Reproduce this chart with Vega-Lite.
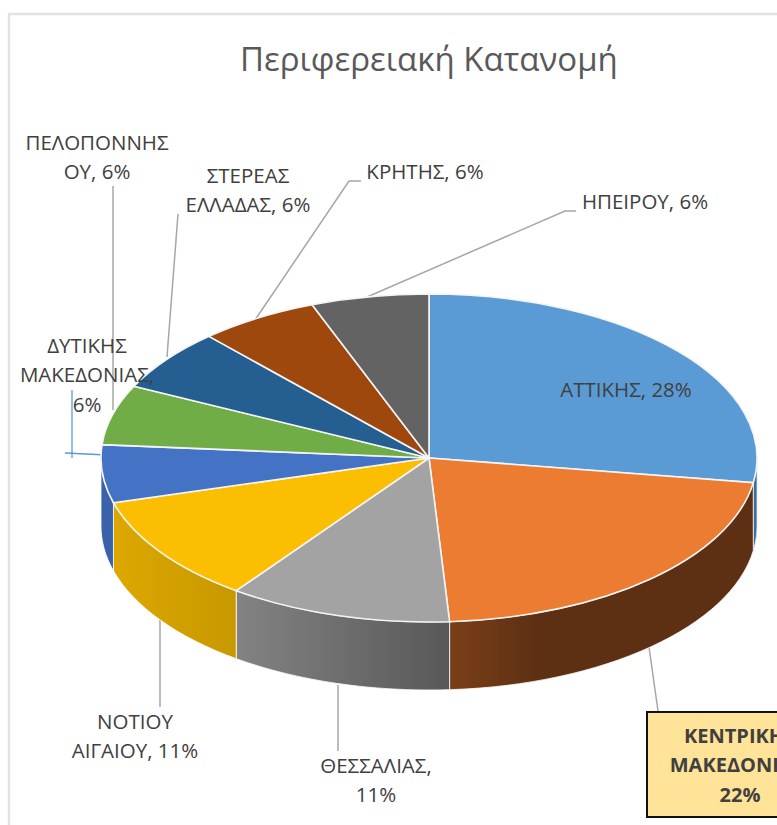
{
"$schema":"https://vega.github.io/schema/vega-lite/v6.json",
"width":777,"height":825,"padding":0,"autosize":{"type":"none"},"background":"white",
"config":{"view":{"stroke":null},"text":{"font":"Open Sans"}},
"title":{"text":"Περιφερειακή Κατανομή","font":"Open Sans","fontSize":33,"fontWeight":"normal","color":"#595959","anchor":"start","frame":"group","dx":240,"dy":81,"offset":0},
"data":{"values":[
{"region":"ΑΤΤΙΚΗΣ","share":27.4,"label":"ΑΤΤΙΚΗΣ, 28%"},
{"region":"ΚΕΝΤΡΙΚΗΣ ΜΑΚΕΔΟΝΙΑΣ","share":21.6,"label":"ΚΕΝΤΡΙΚΗΣ|ΜΑΚΕΔΟΝΙΑΣ,|22%"},
{"region":"ΘΕΣΣΑΛΙΑΣ","share":11,"label":"ΘΕΣΣΑΛΙΑΣ,|11%"},
{"region":"ΝΟΤΙΟΥ ΑΙΓΑΙΟΥ","share":10.6,"label":"ΝΟΤΙΟΥ|ΑΙΓΑΙΟΥ, 11%"},
{"region":"ΔΥΤΙΚΗΣ ΜΑΚΕΔΟΝΙΑΣ","share":5.7,"label":"ΔΥΤΙΚΗΣ|ΜΑΚΕΔΟΝΙΑΣ,|6%"},
{"region":"ΠΕΛΟΠΟΝΝΗΣΟΥ","share":5.9,"label":"ΠΕΛΟΠΟΝΝΗΣ|ΟΥ, 6%"},
{"region":"ΣΤΕΡΕΑΣ ΕΛΛΑΔΑΣ","share":6.1,"label":"ΣΤΕΡΕΑΣ|ΕΛΛΑΔΑΣ, 6%"},
{"region":"ΚΡΗΤΗΣ","share":5.9,"label":"ΚΡΗΤΗΣ, 6%"},
{"region":"ΗΠΕΙΡΟΥ","share":5.8,"label":"ΗΠΕΙΡΟΥ, 6%"}
]},
"transform":[
{"window":[{"op":"sum","field":"share","as":"s1"}],"frame":[null,0]},
{"calculate":"(datum.s1-datum.share)/100*2*PI","as":"a0"},
{"calculate":"datum.s1/100*2*PI","as":"a1"},
{"calculate":"clamp(datum.a0,PI/2,3*PI/2)","as":"w0"},
{"calculate":"clamp(datum.a1,PI/2,3*PI/2)","as":"w1"},
{"calculate":"'M0,0L'+round(328*sin(datum.a0)*100)/100+','+round(-164*cos(datum.a0)*100)/100+'A328,164,0,0,1,'+round(328*sin(datum.a1)*100)/100+','+round(-164*cos(datum.a1)*100)/100+'Z'","as":"wedge"},
{"calculate":"'M'+round(328*sin(datum.w0)*100)/100+','+round(-164*cos(datum.w0)*100)/100+'A328,164,0,0,1,'+round(328*sin(datum.w1)*100)/100+','+round(-164*cos(datum.w1)*100)/100+'L'+round(328*sin(datum.w1)*100)/100+','+round((68-164*cos(datum.w1))*100)/100+'A328,164,0,0,0,'+round(328*sin(datum.w0)*100)/100+','+round((68-164*cos(datum.w0))*100)/100+'Z'","as":"wall"},
{"calculate":"{'ΑΤΤΙΚΗΣ':626,'ΚΕΝΤΡΙΚΗΣ ΜΑΚΕΔΟΝΙΑΣ':740,'ΘΕΣΣΑΛΙΑΣ':376,'ΝΟΤΙΟΥ ΑΙΓΑΙΟΥ':135,'ΔΥΤΙΚΗΣ ΜΑΚΕΔΟΝΙΑΣ':87,'ΠΕΛΟΠΟΝΝΗΣΟΥ':97,'ΣΤΕΡΕΑΣ ΕΛΛΑΔΑΣ':248,'ΚΡΗΤΗΣ':425,'ΗΠΕΙΡΟΥ':645}[datum.region]","as":"lx"},
{"calculate":"{'ΑΤΤΙΚΗΣ':391,'ΚΕΝΤΡΙΚΗΣ ΜΑΚΕΔΟΝΙΑΣ':737,'ΘΕΣΣΑΛΙΑΣ':767,'ΝΟΤΙΟΥ ΑΙΓΑΙΟΥ':723,'ΔΥΤΙΚΗΣ ΜΑΚΕΔΟΝΙΑΣ':347,'ΠΕΛΟΠΟΝΝΗΣΟΥ':144,'ΣΤΕΡΕΑΣ ΕΛΛΑΔΑΣ':177,'ΚΡΗΤΗΣ':173,'ΗΠΕΙΡΟΥ':203}[datum.region]","as":"ly"},
{"calculate":"{'ΑΤΤΙΚΗΣ':'M0,0','ΚΕΝΤΡΙΚΗΣ ΜΑΚΕΔΟΝΙΑΣ':'M649,647L658,711','ΘΕΣΣΑΛΙΑΣ':'M338,685L338,751','ΝΟΤΙΟΥ ΑΙΓΑΙΟΥ':'M160,620L160,707','ΔΥΤΙΚΗΣ ΜΑΚΕΔΟΝΙΑΣ':'M0,0','ΠΕΛΟΠΟΝΝΗΣΟΥ':'M113,186L113,410','ΣΤΕΡΕΑΣ ΕΛΛΑΔΑΣ':'M178,214L167,357','ΚΡΗΤΗΣ':'M361,181L349,181L255,320','ΗΠΕΙΡΟΥ':'M576,211L565,211L367,297'}[datum.region]","as":"leader"}
],
"layer":[
{"data":{"values":[{"frame":"chart area"}]},"transform":[],"mark":{"type":"point","shape":"M9,825L9,14L777,14","filled":false,"stroke":"#e2e2e2","strokeWidth":2.5,"opacity":1,"size":4},
 "encoding":{"x":{"datum":0,"type":"quantitative","scale":{"domain":[0,777],"range":[0,777]},"axis":null},"y":{"datum":0,"type":"quantitative","scale":{"domain":[0,825],"range":[0,825]},"axis":null}}},
{"mark":{"type":"point","filled":false,"stroke":"#a6a6a6","strokeWidth":1.5,"opacity":1,"size":4},
 "encoding":{"x":{"datum":0,"type":"quantitative","scale":{"domain":[0,777],"range":[0,777]},"axis":null},"y":{"datum":0,"type":"quantitative","scale":{"domain":[0,825],"range":[0,825]},"axis":null},"shape":{"field":"leader","type":"nominal","scale":null,"legend":null}}},
{"transform":[{"filter":"datum.region=='ΔΥΤΙΚΗΣ ΜΑΚΕΔΟΝΙΑΣ'"}],"mark":{"type":"point","shape":"M72,390L72,458M65,453L107,455","filled":false,"stroke":"#5b9bd5","strokeWidth":1.3,"opacity":1,"size":4},
 "encoding":{"x":{"datum":0,"type":"quantitative","scale":{"domain":[0,777],"range":[0,777]},"axis":null},"y":{"datum":0,"type":"quantitative","scale":{"domain":[0,825],"range":[0,825]},"axis":null}}},
{"transform":[{"filter":"datum.w1>datum.w0 && datum.region=='ΑΤΤΙΚΗΣ'"}],"mark":{"type":"point","filled":true,"fill":"#3a6d99","stroke":"#dfe6ec","strokeWidth":0.8,"opacity":1,"size":4},
 "encoding":{"x":{"datum":429,"type":"quantitative","scale":{"domain":[0,777],"range":[0,777]},"axis":null},"y":{"datum":458,"type":"quantitative","scale":{"domain":[0,825],"range":[0,825]},"axis":null},"shape":{"field":"wall","type":"nominal","scale":null,"legend":null}}},
{"transform":[{"filter":"datum.w1>datum.w0 && datum.region=='ΚΕΝΤΡΙΚΗΣ ΜΑΚΕΔΟΝΙΑΣ'"}],"mark":{"type":"point","filled":true,"fill":{"x1":0,"y1":0,"x2":1,"y2":0,"gradient":"linear","stops":[{"offset":0,"color":"#7a3f18"},{"offset":0.28,"color":"#5e3013"},{"offset":1,"color":"#5e3013"}]},"stroke":"#ffffff","strokeWidth":0.8,"opacity":1,"size":4},
 "encoding":{"x":{"datum":429,"type":"quantitative","scale":{"domain":[0,777],"range":[0,777]},"axis":null},"y":{"datum":458,"type":"quantitative","scale":{"domain":[0,825],"range":[0,825]},"axis":null},"shape":{"field":"wall","type":"nominal","scale":null,"legend":null}}},
{"transform":[{"filter":"datum.w1>datum.w0 && datum.region=='ΘΕΣΣΑΛΙΑΣ'"}],"mark":{"type":"point","filled":true,"fill":{"x1":0,"y1":0,"x2":1,"y2":0,"gradient":"linear","stops":[{"offset":0,"color":"#838383"},{"offset":1,"color":"#585858"}]},"stroke":"#ffffff","strokeWidth":0.8,"opacity":1,"size":4},
 "encoding":{"x":{"datum":429,"type":"quantitative","scale":{"domain":[0,777],"range":[0,777]},"axis":null},"y":{"datum":458,"type":"quantitative","scale":{"domain":[0,825],"range":[0,825]},"axis":null},"shape":{"field":"wall","type":"nominal","scale":null,"legend":null}}},
{"transform":[{"filter":"datum.w1>datum.w0 && datum.region=='ΝΟΤΙΟΥ ΑΙΓΑΙΟΥ'"}],"mark":{"type":"point","filled":true,"fill":{"x1":0,"y1":0,"x2":1,"y2":0,"gradient":"linear","stops":[{"offset":0,"color":"#dca800"},{"offset":1,"color":"#c79800"}]},"stroke":"#ffffff","strokeWidth":0.8,"opacity":1,"size":4},
 "encoding":{"x":{"datum":429,"type":"quantitative","scale":{"domain":[0,777],"range":[0,777]},"axis":null},"y":{"datum":458,"type":"quantitative","scale":{"domain":[0,825],"range":[0,825]},"axis":null},"shape":{"field":"wall","type":"nominal","scale":null,"legend":null}}},
{"transform":[{"filter":"datum.w1>datum.w0 && datum.region=='ΔΥΤΙΚΗΣ ΜΑΚΕΔΟΝΙΑΣ'"}],"mark":{"type":"point","filled":true,"fill":"#3a62a8","stroke":"#ffffff","strokeWidth":0.8,"opacity":1,"size":4},
 "encoding":{"x":{"datum":429,"type":"quantitative","scale":{"domain":[0,777],"range":[0,777]},"axis":null},"y":{"datum":458,"type":"quantitative","scale":{"domain":[0,825],"range":[0,825]},"axis":null},"shape":{"field":"wall","type":"nominal","scale":null,"legend":null}}},
{"mark":{"type":"point","filled":true,"stroke":"#f4f4f4","strokeWidth":1.6,"opacity":1,"size":4},
 "encoding":{"x":{"datum":429,"type":"quantitative","scale":{"domain":[0,777],"range":[0,777]},"axis":null},"y":{"datum":458,"type":"quantitative","scale":{"domain":[0,825],"range":[0,825]},"axis":null},"shape":{"field":"wedge","type":"nominal","scale":null,"legend":null},
 "color":{"field":"region","type":"nominal","legend":null,"scale":{"domain":["ΑΤΤΙΚΗΣ","ΚΕΝΤΡΙΚΗΣ ΜΑΚΕΔΟΝΙΑΣ","ΘΕΣΣΑΛΙΑΣ","ΝΟΤΙΟΥ ΑΙΓΑΙΟΥ","ΔΥΤΙΚΗΣ ΜΑΚΕΔΟΝΙΑΣ","ΠΕΛΟΠΟΝΝΗΣΟΥ","ΣΤΕΡΕΑΣ ΕΛΛΑΔΑΣ","ΚΡΗΤΗΣ","ΗΠΕΙΡΟΥ"],"range":["#5b9bd5","#eb7c31","#a3a3a3","#fcbe00","#4472c4","#70ad47","#255e91","#9e480e","#636363"]}}}},
{"transform":[{"filter":"datum.region=='ΚΕΝΤΡΙΚΗΣ ΜΑΚΕΔΟΝΙΑΣ'"}],"mark":{"type":"point","shape":"M647,712L790,712L790,817L647,817Z","filled":true,"fill":"#ffe398","stroke":"#111111","strokeWidth":2,"opacity":1,"size":4},
 "encoding":{"x":{"datum":0,"type":"quantitative","scale":{"domain":[0,777],"range":[0,777]},"axis":null},"y":{"datum":0,"type":"quantitative","scale":{"domain":[0,825],"range":[0,825]},"axis":null}}},
{"transform":[{"filter":"datum.region!='ΚΕΝΤΡΙΚΗΣ ΜΑΚΕΔΟΝΙΑΣ'"}],"mark":{"type":"text","font":"Open Sans","fontSize":20.5,"color":"#404040","align":"center","baseline":"middle","lineBreak":"|","lineHeight":29.3},
 "encoding":{"x":{"field":"lx","type":"quantitative","scale":{"domain":[0,777],"range":[0,777]},"axis":null},"y":{"field":"ly","type":"quantitative","scale":{"domain":[0,825],"range":[0,825]},"axis":null},"text":{"field":"label","type":"nominal"}}},
{"transform":[{"filter":"datum.region=='ΚΕΝΤΡΙΚΗΣ ΜΑΚΕΔΟΝΙΑΣ'"}],"mark":{"type":"text","font":"Open Sans","fontSize":20,"fontWeight":"bold","color":"#404040","align":"center","baseline":"middle","lineBreak":"|","lineHeight":29.3},
 "encoding":{"x":{"field":"lx","type":"quantitative","scale":{"domain":[0,777],"range":[0,777]},"axis":null},"y":{"field":"ly","type":"quantitative","scale":{"domain":[0,825],"range":[0,825]},"axis":null},"text":{"field":"label","type":"nominal"}}}
]
}
